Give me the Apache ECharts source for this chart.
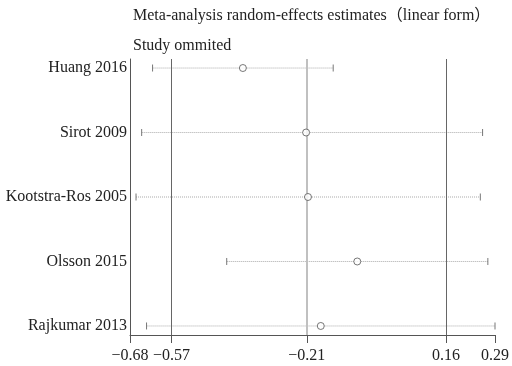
<!DOCTYPE html>
<html>
<head>
<meta charset="utf-8">
<script src="https://cdn.jsdelivr.net/npm/echarts@6/dist/echarts.min.js"></script>
<style>html,body{margin:0;padding:0;background:#fff}#c{width:512px;height:366px}</style>
</head>
<body>
<div id="c"></div>
<script>
const studies = ['Huang 2016', 'Sirot 2009', 'Kootstra-Ros 2005', 'Olsson 2015', 'Rajkumar 2013'];
const estimates = [-0.380, -0.212, -0.207, -0.076, -0.173];
const lower = [-0.620, -0.649, -0.664, -0.423, -0.636];
const upper = [-0.140, 0.257, 0.251, 0.271, 0.290];
const tickValues = [-0.68, -0.57, -0.21, 0.16, 0.29];
const refLines = [-0.57, 0.16];
const pooledLine = -0.21;

const rowY = studies.map((s, i) => studies.length - i);
const ciData = studies.map((s, i) => [lower[i], upper[i], rowY[i]]);
const estData = studies.map((s, i) => [estimates[i], rowY[i]]);
const FONT = '"Liberation Serif", "Times New Roman", "Noto Sans CJK SC", serif';

const chart = echarts.init(document.getElementById('c'), null, {renderer: 'canvas'});
chart.setOption({
  animation: false,
  backgroundColor: '#fff',
  title: [
    {text: 'Meta-analysis random-effects estimates（linear form）', left: 128, top: 3,
     textStyle: {fontFamily: FONT, fontSize: 16, fontWeight: 'normal', color: '#222'}},
    {text: 'Study ommited', left: 128, top: 33,
     textStyle: {fontFamily: FONT, fontSize: 16, fontWeight: 'normal', color: '#222'}}
  ],
  grid: {left: 130, right: 15, top: 59, bottom: 31, containLabel: false},
  xAxis: {
    type: 'value', min: -0.68, max: 0.29,
    axisLine: {show: true, onZero: false, lineStyle: {color: '#555', width: 1}},
    axisTick: {show: true, customValues: tickValues, length: 8, lineStyle: {color: '#555'}},
    axisLabel: {customValues: tickValues, margin: 13, fontFamily: FONT, fontSize: 16, color: '#222',
      formatter: v => (v < 0 ? '−' : '') + Math.abs(v).toFixed(2)},
    splitLine: {show: false}
  },
  yAxis: {
    type: 'value', min: 0.86, max: 5.14,
    axisLine: {show: true, onZero: false, lineStyle: {color: '#555', width: 1}},
    axisTick: {show: false},
    axisLabel: {customValues: [1, 2, 3, 4, 5], margin: 3, fontFamily: FONT, fontSize: 16, color: '#222',
      formatter: v => studies[studies.length - Math.round(v)]},
    splitLine: {show: false}
  },
  series: [
    {
      type: 'custom', z: 2,
      data: ciData,
      renderItem: function (params, api) {
        const lo = api.coord([api.value(0), api.value(2)]);
        const hi = api.coord([api.value(1), api.value(2)]);
        return {type: 'group', children: [
          {type: 'line', shape: {x1: lo[0], y1: lo[1], x2: hi[0], y2: hi[1]},
           style: {stroke: '#aaa', lineWidth: 1, lineDash: [1, 1]}},
          {type: 'line', shape: {x1: lo[0], y1: lo[1] - 3.5, x2: lo[0], y2: lo[1] + 3.5},
           style: {stroke: '#777', lineWidth: 1}},
          {type: 'line', shape: {x1: hi[0], y1: hi[1] - 3.5, x2: hi[0], y2: hi[1] + 3.5},
           style: {stroke: '#777', lineWidth: 1}}
        ]};
      },
      markLine: {
        silent: true, symbol: 'none', label: {show: false},
        data: [
          {xAxis: refLines[0], lineStyle: {color: '#666', width: 1, type: 'solid'}},
          {xAxis: refLines[1], lineStyle: {color: '#666', width: 1, type: 'solid'}},
          {xAxis: pooledLine, lineStyle: {color: '#c0c0c0', width: 2, type: 'solid'}}
        ]
      }
    },
    {
      type: 'scatter', z: 5,
      data: estData,
      symbol: 'circle', symbolSize: 7,
      itemStyle: {color: '#fff', borderColor: '#555', borderWidth: 1}
    }
  ]
});
</script>
</body>
</html>
